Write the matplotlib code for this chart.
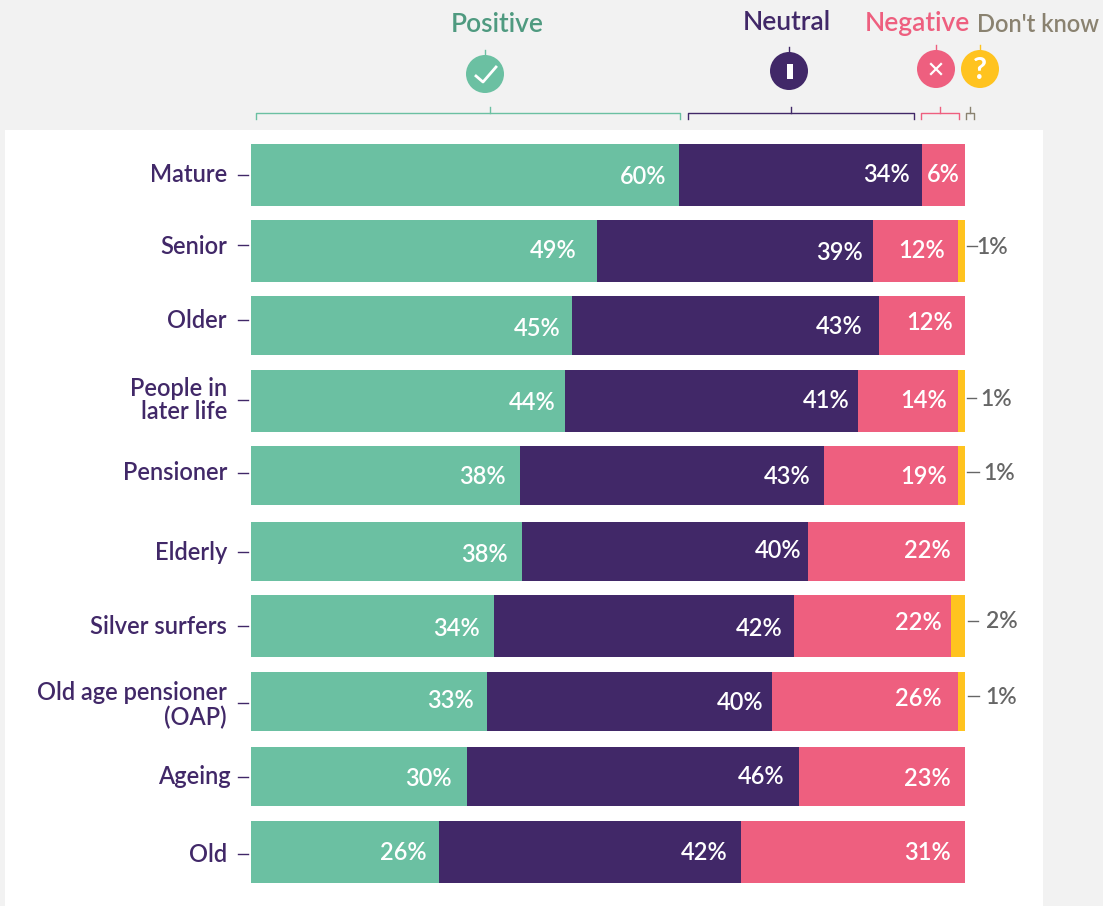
import matplotlib
matplotlib.use('Agg')
import matplotlib.pyplot as plt
import numpy as np

# ── Data ──
terms = ['Mature', 'Senior', 'Older', 'People in\nlater life', 'Pensioner',
         'Elderly', 'Silver surfers', 'Old age pensioner\n(OAP)', 'Ageing', 'Old']
positive = [60, 49, 45, 44, 38, 38, 34, 33, 30, 26]
neutral = [34, 39, 43, 41, 43, 40, 42, 40, 46, 42]
negative = [6, 12, 12, 14, 19, 22, 22, 26, 23, 31]
dont_know = [0, 1, 0, 1, 1, 0, 2, 1, 0, 0]

# ── Layout (pixels in the 1103x906 picture) ──
W, H = 1103, 906
BAR_L, BAR_R = 251, 965
row_top = [144, 220, 296, 370, 446, 522, 595, 672, 747, 821]
row_bottom = [206, 282, 355, 432, 505, 581, 657, 731, 806, 883]
label_y = [175, 246, 321, 400, 472, 553, 627, 705, 777, 855]
label_right = [227, 227, 227, 227, 227, 227, 227, 227, 231, 227]
tick_y = [175, 245, 320, 400, 473, 552, 626, 703, 777, 854]
side_y = [None, 247, None, 399, 473, None, 622, 697, None, None]
side_x = [None, 976, None, 980, 983, None, 986, 985, None, None]
side_dash = [None, (967, 977), None, (967, 976), (967, 979), None, (968, 978), (968, 979), None, None]
# right edge and height of the percent labels inside the bars, one row each
pct_right = [[666, 910, 960], [577, 863, 945], [561, 863, 953], [556, 850, 947], [506, 811, 947],
             [508, 801, 951], [480, 783, 942], [474, 763, 942], [452, 784, 951], [427, 728, 951]]
pct_y = [[175, 172, 172], [248, 250, 248], [326, 325, 321], [400, 398, 399], [475, 475, 475],
         [552, 549, 549], [626, 626, 621], [699, 701, 696], [777, 775, 777], [850, 850, 850]]

GREEN, PURPLE, PINK, YELLOW = '#6BC0A2', '#412868', '#EE5F7F', '#FFC31F'
FONT = 'Lato'
plt.rcParams['font.family'] = [FONT, 'DejaVu Sans']

fig = plt.figure(figsize=(W / 100, H / 100), dpi=100, facecolor='#F2F2F2')

# Overlay in pixel coordinates for panel, header and labels
bg = fig.add_axes([0, 0, 1, 1])
bg.set_xlim(0, W)
bg.set_ylim(H, 0)
bg.axis('off')
bg.add_patch(plt.Rectangle((5, 130), 1038, 776, facecolor='white', edgecolor='none'))

# Bars: x axis in percent, y axis in pixels
ax = fig.add_axes([BAR_L / W, 0, (BAR_R - BAR_L) / W, 1])
ax.set_xlim(0, 100)
ax.set_ylim(H, 0)
ax.axis('off')
ax.patch.set_alpha(0)

vals = np.array([positive, neutral, negative, dont_know], dtype=float)
shares = vals / vals.sum(axis=0) * 100
tops = np.array(row_top)
heights = np.array(row_bottom) - tops
centers = tops + heights / 2
colors = [GREEN, PURPLE, PINK, YELLOW]

left = np.zeros(len(terms))
for k in range(4):
    ax.barh(centers, shares[k], height=heights, left=left, color=colors[k], linewidth=0)
    left += shares[k]
    if k == 3:
        continue
    for i, v in enumerate(vals[k]):
        ax.text(pct_right[i][k], pct_y[i][k], f'{int(v)}%', transform=bg.transData,
                ha='right', va='center_baseline', fontsize=17, fontweight='semibold', color='white')

# Row labels and small dashes
for i, t in enumerate(terms):
    bg.text(label_right[i], label_y[i], t, ha='right', va='center', fontsize=17,
            fontweight='semibold', color=PURPLE, linespacing=1.05)
    bg.plot([238, 248], [tick_y[i], tick_y[i]], color=PURPLE, lw=1)
    if side_y[i] is not None:
        bg.plot(side_dash[i], [side_y[i] - 1, side_y[i] - 1], color='#666666', lw=1)
        bg.text(side_x[i], side_y[i], f'{dont_know[i]}%', ha='left', va='center',
                fontsize=16.5, fontweight='semibold', color='#666666')

# ── Header: names, icons, brackets ──
bg.text(497, 25, 'Positive', ha='center', va='center', fontsize=19, fontweight='semibold', color='#4F9A80')
bg.text(787, 23, 'Neutral', ha='center', va='center', fontsize=19, fontweight='semibold', color=PURPLE)
bg.text(917, 24, 'Negative', ha='center', va='center', fontsize=19, fontweight='semibold', color=PINK)
bg.text(1038, 25, "Don't know", ha='center', va='center', fontsize=17, fontweight='semibold', color='#8A8270')

icons = [(485, 74, GREEN), (789, 71, PURPLE), (936, 69, PINK), (980, 69, YELLOW)]
for cx, cy, c in icons:
    bg.add_patch(plt.Circle((cx, cy), 19, facecolor=c, edgecolor='none'))
    bg.plot([cx, cx], [cy - 24, cy - 19], color=c, lw=1)
bg.plot([476, 483, 496], [76, 82, 67], color='white', lw=2)
bg.add_patch(plt.Rectangle((786.5, 63.5), 6, 15, facecolor='white', edgecolor='none'))
bg.plot([931, 941], [64, 74], color='white', lw=1.6)
bg.plot([931, 941], [74, 64], color='white', lw=1.6)
bg.text(979.5, 70, '?', ha='center', va='center', fontsize=22, fontweight='bold', color='white')

brackets = [(256, 680, 490, GREEN), (688, 914, 791, PURPLE),
            (921, 959, 940, PINK), (966, 974, 970, '#8A8270')]
for x0, x1, xm, c in brackets:
    bg.plot([x0, x0, x1, x1], [119, 113, 113, 119], color=c, lw=1)
    bg.plot([xm, xm], [107, 113], color=c, lw=1)

fig.savefig('out.png', dpi=100, facecolor=fig.get_facecolor())
